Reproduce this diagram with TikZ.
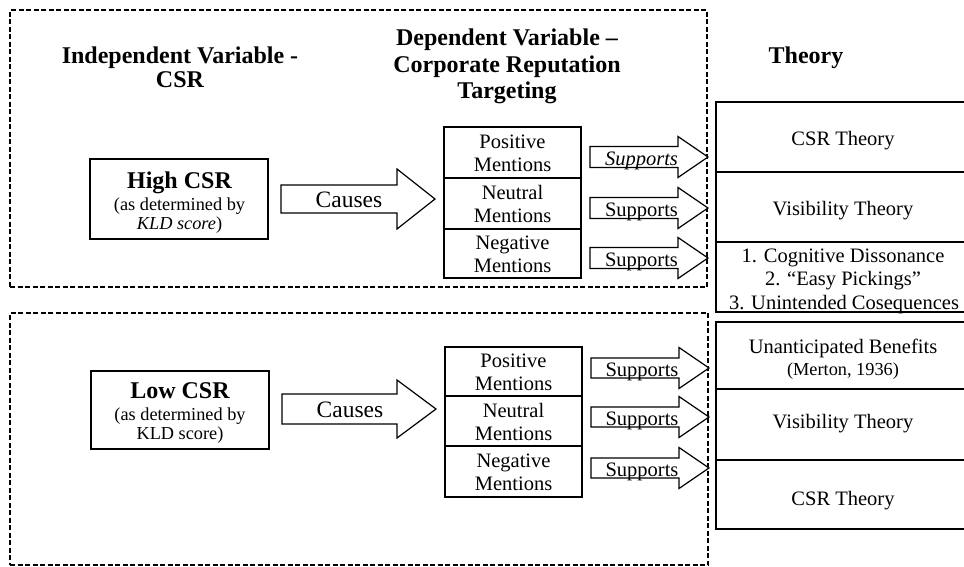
\documentclass[tikz,border=0pt]{standalone}
\usepackage{fontspec}
\setmainfont{Liberation Serif}
\usetikzlibrary{fit,calc}
\newcommand{\blockarr}[5]{%
  \draw[barrow] ($(#1)+(0,-#4)$) -- ($(#2)+(-#3,-#4)$) -- ($(#2)+(-#3,-#5)$) -- (#2)
    -- ($(#2)+(-#3,#5)$) -- ($(#2)+(-#3,#4)$) -- ($(#1)+(0,#4)$) -- cycle;}
\begin{document}
\begin{tikzpicture}[x=1pt,y=-1pt,
  box/.style={draw, line width=1.2pt, inner sep=0pt},
  dashbox/.style={draw, line width=1.8pt, dash pattern=on 5pt off 2.5pt, inner sep=0pt},
  barrow/.style={draw, line width=1.2pt, fill=white},
  txt/.style={anchor=base, inner sep=0pt, font=\fontsize{20.5}{23}\selectfont},
  small/.style={anchor=base, inner sep=0pt, font=\fontsize{18.3}{20}\selectfont},
  head/.style={anchor=base, inner sep=0pt, font=\fontsize{24}{24}\selectfont\bfseries},
  big/.style={anchor=base, inner sep=0pt, font=\fontsize{23.5}{24}\selectfont}]
\useasboundingbox (0,0) rectangle (964,566);

% dashed frames
\node[dashbox, fit={(10,10) (707,287)}] (topframe) {};
\node[dashbox, fit={(10,313) (708,565)}] (botframe) {};

% headings
\node[head] (h1a) at (180,63) {Independent Variable -};
\node[head] (h1b) at (180,87) {CSR};
\node[head] (h2a) at (507,45) {Dependent Variable –};
\node[head] (h2b) at (507,72) {Corporate Reputation};
\node[head] (h2c) at (507,98) {Targeting};
\node[head] (h3) at (806,63) {Theory};

% ---------- top half ----------
\node[box, fit={(90,159) (268,239)}] (high) {};
\node[head] (hight) at (179.5,188) {High CSR};
\node[small] (highd) at (179.5,210) {(as determined by};
\node[small] (highk) at (179.5,229) {\textit{KLD score})};

\coordinate (c1s) at (281,199);
\coordinate (c1t) at (435,199);
\blockarr{c1s}{c1t}{38}{14}{30}
\node[big] (c1l) at (349,207) {Causes};

\node[box, fit={(444,127) (581,178)}] (tp) {};
\node[box, fit={(444,178) (581,229)}] (tn) {};
\node[box, fit={(444,229) (581,278)}] (tg) {};
\node[txt] at (512.5,148) (tpa) {Positive};
\node[txt] at (512.5,171) (tpb) {Mentions};
\node[txt] at (512.5,199) (tna) {Neutral};
\node[txt] at (512.5,222) (tnb) {Mentions};
\node[txt] at (512.5,249) (tga) {Negative};
\node[txt] at (512.5,272) (tgb) {Mentions};

\coordinate (s1s) at (590,157); \coordinate (s1t) at (708,157);
\coordinate (s2s) at (590,208); \coordinate (s2t) at (708,208);
\coordinate (s3s) at (590,258); \coordinate (s3t) at (708,258);
\blockarr{s1s}{s1t}{30}{10.5}{20.5}
\blockarr{s2s}{s2t}{30}{10.5}{20.5}
\blockarr{s3s}{s3t}{30}{10.5}{20.5}
\node[txt] (s1l) at (641.5,165) {\textit{Supports}};
\node[txt] (s2l) at (641.5,216) {Supports};
\node[txt] (s3l) at (641.5,266) {Supports};

\node[box, fit={(716,102) (972,172)}] (th1) {};
\node[box, fit={(716,172) (972,242)}] (th2) {};
\node[box, fit={(716,242) (972,312)}] (th3) {};
\node[txt] (th1t) at (843,145) {CSR Theory};
\node[txt] (th2t) at (843,215) {Visibility Theory};
\node[txt] (th3a) at (843,262) {1. Cognitive Dissonance};
\node[txt] (th3b) at (843,285) {2. “Easy Pickings”};
\node[txt] (th3c) at (844,309) {3. Unintended Cosequences};

% ---------- bottom half ----------
\node[box, fit={(91,371) (269,449)}] (low) {};
\node[head] (lowt) at (180,398) {Low CSR};
\node[small] (lowd) at (180,420) {(as determined by};
\node[small] (lowk) at (180,439) {KLD score)};

\coordinate (c2s) at (282,409);
\coordinate (c2t) at (436,409);
\blockarr{c2s}{c2t}{39}{15}{29}
\node[big] (c2l) at (350,417) {Causes};

\node[box, fit={(445,347) (582,396)}] (bp) {};
\node[box, fit={(445,396) (582,446)}] (bn) {};
\node[box, fit={(445,446) (582,497)}] (bg) {};
\node[txt] at (513.5,367) (bpa) {Positive};
\node[txt] at (513.5,390) (bpb) {Mentions};
\node[txt] at (513.5,417) (bna) {Neutral};
\node[txt] at (513.5,440) (bnb) {Mentions};
\node[txt] at (513.5,467) (bga) {Negative};
\node[txt] at (513.5,490) (bgb) {Mentions};

\coordinate (t1s) at (591,368); \coordinate (t1t) at (709,368);
\coordinate (t2s) at (591,417); \coordinate (t2t) at (709,417);
\coordinate (t3s) at (591,468); \coordinate (t3t) at (709,468);
\blockarr{t1s}{t1t}{30}{10}{20.5}
\blockarr{t2s}{t2t}{30}{10}{20.5}
\blockarr{t3s}{t3t}{30}{10}{20.5}
\node[txt] (t1l) at (642,376) {Supports};
\node[txt] (t2l) at (642,425) {Supports};
\node[txt] (t3l) at (642,476) {Supports};

\node[box, fit={(716,322) (972,389)}] (tb1) {};
\node[box, fit={(716,389) (972,460)}] (tb2) {};
\node[box, fit={(716,460) (972,529)}] (tb3) {};
\node[txt] (tb1a) at (843,353) {Unanticipated Benefits};
\node[small] (tb1b) at (843,375) {(Merton, 1936)};
\node[txt] (tb2t) at (843,428) {Visibility Theory};
\node[txt] (tb3t) at (843,505) {CSR Theory};
\end{tikzpicture}
\end{document}
